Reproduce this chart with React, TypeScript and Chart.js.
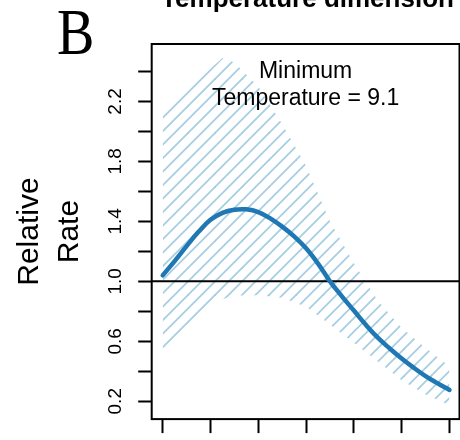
import React, { useEffect, useRef } from 'react';
import { Chart, registerables } from 'chart.js';

Chart.register(...registerables);

// ---- data ----
const xTicks = [0, 1, 2, 3, 4, 5, 6];
const yTicks = [0.2, 0.4, 0.6, 0.8, 1.0, 1.2, 1.4, 1.6, 1.8, 2.0, 2.2, 2.4];
const yLabelled = [0.2, 0.6, 1.0, 1.4, 1.8, 2.2];

const curveX = [0, 0.25, 0.5, 0.75, 1, 1.25, 1.5, 1.75, 2, 2.25, 2.5, 2.75, 3, 3.25, 3.5, 3.75, 4, 4.25, 4.5, 4.75, 5, 5.25, 5.5, 5.75, 6];
const curveY = [1.04, 1.135, 1.235, 1.33, 1.41, 1.457, 1.478, 1.48, 1.462, 1.42, 1.365, 1.3, 1.22, 1.118, 1.0, 0.9, 0.805, 0.71, 0.624, 0.552, 0.485, 0.424, 0.368, 0.32, 0.275];

const bandX = [0, 0.5, 1, 1.25, 1.5, 2, 2.5, 3, 3.5, 4, 4.5, 5, 5.5, 6];
const upperY = [2.13, 2.275, 2.42, 2.49, 2.46, 2.3, 2.05, 1.77, 1.4, 1.12, 0.87, 0.69, 0.555, 0.433];
const lowerY = [0.53, 0.67, 0.81, 0.88, 0.905, 0.907, 0.89, 0.83, 0.712, 0.59, 0.465, 0.34, 0.245, 0.174];

const refLevel = 1.0;
const xRange = [-0.23, 6.21];
const yRange = [0.081, 2.583];

const titleText = 'Temperature dimension';
const panelLetter = 'B';
const yTitle = ['Relative', 'Rate'];
const noteLines = ['Minimum', 'Temperature = 9.1'];

const SANS = '"Liberation Sans", Arial, Helvetica, sans-serif';
const SERIF = '"Liberation Serif", "Times New Roman", serif';

function makeHatch(): CanvasPattern | string {
  const size = 27;
  const c = document.createElement('canvas');
  c.width = size;
  c.height = size;
  const g = c.getContext('2d');
  if (!g) return '#a6cee3';
  g.strokeStyle = '#a6cee3';
  g.lineWidth = 1.8;
  const step = 13.5;
  const phase = 10.5;
  for (let k = -2; k <= 6; k++) {
    const cc = phase + k * step;
    g.beginPath();
    g.moveTo(cc + 4, -4);
    g.lineTo(cc - size - 4, size + 4);
    g.stroke();
  }
  const p = g.createPattern(c, 'repeat');
  return p || '#a6cee3';
}

const decorPlugin = {
  id: 'decor',
  afterDraw(chart: any) {
    const { ctx, chartArea } = chart;
    const { left, right, top, bottom } = chartArea;
    ctx.save();
    // box around plot region
    ctx.strokeStyle = '#000';
    ctx.lineWidth = 2;
    ctx.strokeRect(left, top, right - left, bottom - top);

    // note text inside plot
    ctx.fillStyle = '#000';
    ctx.font = `23px ${SANS}`;
    ctx.textAlign = 'center';
    ctx.textBaseline = 'alphabetic';
    const cx = (left + right) / 2;
    ctx.fillText(noteLines[0], cx, top + 34);
    ctx.fillText(noteLines[1], cx, top + 61);

    // cropped bold title
    ctx.font = `bold 26px ${SANS}`;
    ctx.fillText(titleText, 307.5, 7);

    // panel letter
    ctx.save();
    ctx.translate(57, 54);
    ctx.scale(0.85, 1);
    ctx.font = `66px ${SERIF}`;
    ctx.textAlign = 'left';
    ctx.fillText(panelLetter, 0, 0);
    ctx.restore();
    ctx.restore();
  },
};

export default function App() {
  const ref = useRef<HTMLCanvasElement | null>(null);
  useEffect(() => {
    if (!ref.current) return;
    const hatch = makeHatch();
    const chart = new Chart(ref.current, {
      type: 'line',
      data: {
        datasets: [
          {
            data: curveX.map((x, i) => ({ x, y: curveY[i] })),
            borderColor: '#1f78b4',
            borderWidth: 4.5,
            borderCapStyle: 'round',
            borderJoinStyle: 'round',
            tension: 0.4,
            pointRadius: 0,
            fill: false,
          },
          {
            data: [
              { x: xRange[0], y: refLevel },
              { x: xRange[1], y: refLevel },
            ],
            borderColor: '#000',
            borderWidth: 2,
            pointRadius: 0,
            fill: false,
          },
          {
            data: bandX.map((x, i) => ({ x, y: upperY[i] })),
            borderWidth: 0,
            borderColor: 'rgba(0,0,0,0)',
            backgroundColor: hatch as any,
            pointRadius: 0,
            tension: 0,
            fill: '+1',
          },
          {
            data: bandX.map((x, i) => ({ x, y: lowerY[i] })),
            borderWidth: 0,
            borderColor: 'rgba(0,0,0,0)',
            pointRadius: 0,
            tension: 0,
            fill: false,
          },
        ] as any,
      },
      options: {
        animation: false,
        responsive: false,
        devicePixelRatio: 1,
        events: [],
        layout: { padding: { top: 44, right: 0.5, left: 0, bottom: 0 } },
        plugins: {
          legend: { display: false },
          tooltip: { enabled: false },
          title: { display: false },
          filler: { drawTime: 'beforeDatasetsDraw' },
        },
        scales: {
          x: {
            type: 'linear',
            min: xRange[0],
            max: xRange[1],
            afterBuildTicks: (s: any) => {
              s.ticks = xTicks.map((v) => ({ value: v }));
            },
            afterFit: (s: any) => {
              s.height = 10.7;
            },
            ticks: { display: false },
            grid: {
              display: true,
              drawOnChartArea: false,
              drawTicks: true,
              tickLength: 14,
              tickWidth: 2,
              tickColor: '#000',
            },
            border: { display: false },
          },
          y: {
            type: 'linear',
            min: yRange[0],
            max: yRange[1],
            afterBuildTicks: (s: any) => {
              s.ticks = yTicks.map((v) => ({ value: v }));
            },
            afterFit: (s: any) => {
              s.width = 151.7;
            },
            ticks: {
              autoSkip: false,
              minRotation: 90,
              maxRotation: 90,
              crossAlign: 'center',
              padding: 9.5,
              color: '#000',
              font: { family: SANS, size: 19 },
              callback: (v: any) => {
                const n = Number(v);
                return yLabelled.some((l) => Math.abs(l - n) < 1e-6) ? n.toFixed(1) : '';
              },
            },
            grid: {
              display: true,
              drawOnChartArea: false,
              drawTicks: true,
              tickLength: 13.5,
              tickWidth: 2,
              tickColor: '#000',
            },
            border: { display: false },
            title: {
              display: true,
              text: yTitle,
              color: '#000',
              font: { family: SANS, size: 30, lineHeight: 1.32 },
              padding: { top: 10, bottom: 0 },
            },
          },
        },
      } as any,
      plugins: [decorPlugin],
    });
    return () => chart.destroy();
  }, []);

  return (
    <div style={{ position: 'fixed', left: 0, top: 0, width: 460, height: 440, background: '#fff' }}>
      <canvas ref={ref} width={460} height={440} style={{ display: 'block', width: 460, height: 440 }} />
    </div>
  );
}
